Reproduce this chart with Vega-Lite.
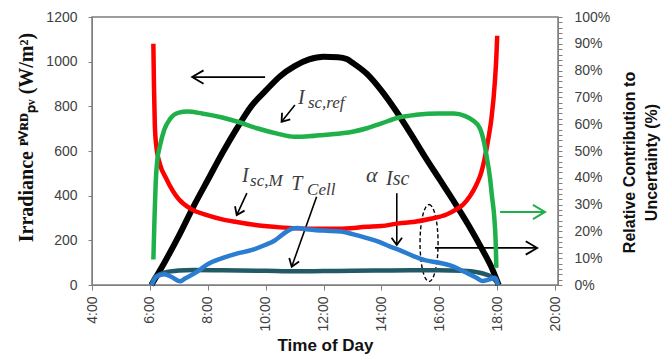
{
  "$schema": "https://vega.github.io/schema/vega-lite/v6.json",
  "width": 466,
  "height": 268,
  "autosize": {"type": "none"},
  "padding": {"left": 92, "top": 17, "right": 107, "bottom": 75},
  "config": {
    "font": "Liberation Sans",
    "view": {"stroke": "#7f7f7f", "strokeWidth": 1.5},
    "axis": {"grid": false, "domainColor": "#7f7f7f", "tickColor": "#7f7f7f", "labelColor": "#404040", "labelFontSize": 14, "labelOverlap": false, "labelFlush": false, "titleColor": "#111111"}
  },
  "datasets": {
    "irr": [
      {"h": 6.05, "v": 0}, {"h": 6.5, "v": 100}, {"h": 7.0, "v": 220}, {"h": 7.5, "v": 350},
      {"h": 8.0, "v": 470}, {"h": 8.5, "v": 590}, {"h": 9.0, "v": 700}, {"h": 9.5, "v": 800},
      {"h": 10.0, "v": 870}, {"h": 10.5, "v": 935}, {"h": 11.0, "v": 980}, {"h": 11.5, "v": 1010},
      {"h": 12.0, "v": 1022}, {"h": 12.5, "v": 1020}, {"h": 12.8, "v": 1012}, {"h": 13.0, "v": 995},
      {"h": 13.5, "v": 945}, {"h": 14.0, "v": 870}, {"h": 14.5, "v": 780}, {"h": 15.0, "v": 680},
      {"h": 15.5, "v": 575}, {"h": 16.0, "v": 475}, {"h": 16.5, "v": 375}, {"h": 17.0, "v": 270},
      {"h": 17.5, "v": 155}, {"h": 17.8, "v": 80}, {"h": 18.05, "v": 0}
    ],
    "pct": [
      {"s": "teal", "h": 6.06, "v": 0}, {"s": "teal", "h": 6.15, "v": 2.5}, {"s": "teal", "h": 6.25, "v": 3.5},
      {"s": "teal", "h": 6.5, "v": 4.6}, {"s": "teal", "h": 7.0, "v": 5.4}, {"s": "teal", "h": 7.5, "v": 5.6},
      {"s": "teal", "h": 8.5, "v": 5.5}, {"s": "teal", "h": 10.0, "v": 5.3}, {"s": "teal", "h": 11.0, "v": 5.1},
      {"s": "teal", "h": 12.0, "v": 5.2}, {"s": "teal", "h": 13.0, "v": 5.3}, {"s": "teal", "h": 14.0, "v": 5.4},
      {"s": "teal", "h": 15.0, "v": 5.5}, {"s": "teal", "h": 16.0, "v": 5.5}, {"s": "teal", "h": 16.8, "v": 5.3},
      {"s": "teal", "h": 17.3, "v": 4.8}, {"s": "teal", "h": 17.6, "v": 4.0}, {"s": "teal", "h": 17.8, "v": 3.0},
      {"s": "teal", "h": 17.95, "v": 1.5}, {"s": "teal", "h": 18.03, "v": 0.5},

      {"s": "red", "h": 6.12, "v": 90}, {"s": "red", "h": 6.14, "v": 75}, {"s": "red", "h": 6.17, "v": 60},
      {"s": "red", "h": 6.22, "v": 52}, {"s": "red", "h": 6.35, "v": 45}, {"s": "red", "h": 6.55, "v": 40},
      {"s": "red", "h": 6.8, "v": 35}, {"s": "red", "h": 7.0, "v": 32}, {"s": "red", "h": 7.4, "v": 28.5},
      {"s": "red", "h": 8.0, "v": 26}, {"s": "red", "h": 8.5, "v": 24.5}, {"s": "red", "h": 9.0, "v": 23.5},
      {"s": "red", "h": 9.7, "v": 22.3}, {"s": "red", "h": 10.5, "v": 21.5}, {"s": "red", "h": 11.5, "v": 21},
      {"s": "red", "h": 12.5, "v": 21}, {"s": "red", "h": 13.5, "v": 21.7}, {"s": "red", "h": 14.0, "v": 22},
      {"s": "red", "h": 14.6, "v": 23}, {"s": "red", "h": 15.1, "v": 23.5}, {"s": "red", "h": 15.7, "v": 24.7},
      {"s": "red", "h": 16.25, "v": 26.3}, {"s": "red", "h": 16.6, "v": 28.3}, {"s": "red", "h": 16.82, "v": 30},
      {"s": "red", "h": 17.05, "v": 33}, {"s": "red", "h": 17.28, "v": 37.4}, {"s": "red", "h": 17.45, "v": 42},
      {"s": "red", "h": 17.57, "v": 47.4}, {"s": "red", "h": 17.7, "v": 55}, {"s": "red", "h": 17.8, "v": 62},
      {"s": "red", "h": 17.92, "v": 76}, {"s": "red", "h": 17.97, "v": 85}, {"s": "red", "h": 18.0, "v": 93},

      {"s": "blue", "h": 6.06, "v": 0}, {"s": "blue", "h": 6.15, "v": 2}, {"s": "blue", "h": 6.25, "v": 3.3},
      {"s": "blue", "h": 6.5, "v": 4}, {"s": "blue", "h": 6.75, "v": 3}, {"s": "blue", "h": 7.04, "v": 1.4},
      {"s": "blue", "h": 7.2, "v": 2.3}, {"s": "blue", "h": 7.4, "v": 3.5}, {"s": "blue", "h": 7.7, "v": 5.5},
      {"s": "blue", "h": 7.96, "v": 7.5}, {"s": "blue", "h": 8.5, "v": 10}, {"s": "blue", "h": 9.0, "v": 11.7},
      {"s": "blue", "h": 9.5, "v": 13}, {"s": "blue", "h": 10.0, "v": 15}, {"s": "blue", "h": 10.3, "v": 16.5},
      {"s": "blue", "h": 10.6, "v": 19}, {"s": "blue", "h": 10.9, "v": 21}, {"s": "blue", "h": 11.1, "v": 21.3},
      {"s": "blue", "h": 11.4, "v": 20.8}, {"s": "blue", "h": 12.0, "v": 20.3}, {"s": "blue", "h": 12.6, "v": 20},
      {"s": "blue", "h": 13.0, "v": 19}, {"s": "blue", "h": 13.5, "v": 17.5}, {"s": "blue", "h": 13.94, "v": 16},
      {"s": "blue", "h": 14.3, "v": 14.3}, {"s": "blue", "h": 14.63, "v": 13}, {"s": "blue", "h": 15.1, "v": 10.8},
      {"s": "blue", "h": 15.5, "v": 9.3}, {"s": "blue", "h": 16.0, "v": 8.3}, {"s": "blue", "h": 16.4, "v": 7.2},
      {"s": "blue", "h": 16.7, "v": 5.8}, {"s": "blue", "h": 17.0, "v": 4.2}, {"s": "blue", "h": 17.28, "v": 2.7},
      {"s": "blue", "h": 17.5, "v": 1.5}, {"s": "blue", "h": 17.7, "v": 2}, {"s": "blue", "h": 17.92, "v": 2.7},
      {"s": "blue", "h": 18.03, "v": 0},

      {"s": "green", "h": 6.12, "v": 9.5}, {"s": "green", "h": 6.16, "v": 25}, {"s": "green", "h": 6.2, "v": 38},
      {"s": "green", "h": 6.25, "v": 46}, {"s": "green", "h": 6.35, "v": 52}, {"s": "green", "h": 6.5, "v": 58},
      {"s": "green", "h": 6.7, "v": 62}, {"s": "green", "h": 7.0, "v": 64.3}, {"s": "green", "h": 7.3, "v": 64.7},
      {"s": "green", "h": 7.8, "v": 64}, {"s": "green", "h": 8.5, "v": 62.5}, {"s": "green", "h": 9.0, "v": 61},
      {"s": "green", "h": 9.7, "v": 58.5}, {"s": "green", "h": 10.4, "v": 56.5}, {"s": "green", "h": 11.0, "v": 55.3},
      {"s": "green", "h": 11.5, "v": 55.5}, {"s": "green", "h": 12.0, "v": 56}, {"s": "green", "h": 13.0, "v": 57.2},
      {"s": "green", "h": 13.5, "v": 58.5}, {"s": "green", "h": 14.0, "v": 60.3}, {"s": "green", "h": 14.6, "v": 62.5},
      {"s": "green", "h": 15.2, "v": 63.5}, {"s": "green", "h": 16.0, "v": 64}, {"s": "green", "h": 16.5, "v": 64},
      {"s": "green", "h": 16.9, "v": 63}, {"s": "green", "h": 17.15, "v": 61.5}, {"s": "green", "h": 17.4, "v": 58.5},
      {"s": "green", "h": 17.55, "v": 53}, {"s": "green", "h": 17.65, "v": 47}, {"s": "green", "h": 17.75, "v": 40},
      {"s": "green", "h": 17.82, "v": 33}, {"s": "green", "h": 17.9, "v": 25}, {"s": "green", "h": 17.95, "v": 15},
      {"s": "green", "h": 17.97, "v": 6.4}
    ],
    "bigArrows": [
      {"h": 9.98, "v": 931, "h2": 7.46, "v2": 931, "dir": 180},
      {"h": 15.85, "v": 166, "h2": 19.38, "v2": 166, "dir": 0}
    ],
    "greenArrow": [
      {"h": 18.1, "v": 327, "h2": 19.65, "v2": 327, "dir": 0}
    ],
    "smallArrows": [
      {"h": 11.01, "v": 806, "h2": 10.55, "v2": 731, "dir": 128.5},
      {"h": 9.35, "v": 411, "h2": 9.0, "v2": 313, "dir": 114.7},
      {"h": 11.76, "v": 395, "h2": 10.9, "v2": 82, "dir": 109.7},
      {"h": 14.53, "v": 411, "h2": 14.53, "v2": 179, "dir": 90}
    ],
    "ellipse": [{"h": 15.645, "v": 188}],
    "mainLabels": [
      {"h": 11.12, "v": 810, "t": "I"},
      {"h": 9.18, "v": 461, "t": "I"},
      {"h": 10.88, "v": 425, "t": "T"},
      {"h": 14.16, "v": 448, "t": "Isc"}
    ],
    "subLabels": [
      {"h": 11.46, "v": 793, "t": "sc,ref"},
      {"h": 9.46, "v": 443, "t": "sc,M"},
      {"h": 11.43, "v": 403, "t": "Cell"}
    ],
    "alphaLabel": [{"h": 13.47, "v": 461, "t": "α"}]
  },
  "layer": [
    {
      "layer": [
        {
          "data": {"name": "irr"},
          "mark": {"type": "line", "color": "#000000", "strokeWidth": 6, "interpolate": "monotone"},
          "encoding": {
            "x": {"field": "h", "type": "quantitative", "scale": {"domain": [4, 20.1], "nice": false, "zero": false},
              "axis": {"title": "Time of Day", "titleFontSize": 17, "titleFontWeight": "bold", "titlePadding": 6,
                "values": [4,5,6,7,8,9,10,11,12,13,14,15,16,17,18,19,20],
                "labelExpr": "datum.value % 2 == 0 ? datum.value + ':00' : ''",
                "labelAngle": -90, "tickSize": 5, "labelPadding": 6}},
            "y": {"field": "v", "type": "quantitative", "scale": {"domain": [0, 1200], "nice": false},
              "axis": {"title": "Irradiance ᴾⱽᴿᴰₚᵥ (W/m²)", "titleFont": "Liberation Serif", "titleFontSize": 20, "titleFontWeight": "bold",
                "titlePadding": 9, "titleY": 120,
                "values": [0,50,100,150,200,250,300,350,400,450,500,550,600,650,700,750,800,850,900,950,1000,1050,1100,1150,1200],
                "labelExpr": "datum.value % 200 == 0 ? datum.value : ''", "tickSize": 4, "labelPadding": 11}}
          }
        },
        {
          "data": {"name": "bigArrows"},
          "mark": {"type": "rule", "color": "#000000", "strokeWidth": 1.8},
          "encoding": {
            "x": {"field": "h", "type": "quantitative"},
            "x2": {"field": "h2"},
            "y": {"field": "v", "type": "quantitative"},
            "y2": {"field": "v2"}
          }
        },
        {
          "data": {"name": "bigArrows"},
          "mark": {"type": "point", "shape": "M-1.7,-1L0,0L-1.7,1", "size": 180, "filled": false, "color": "#000000", "strokeWidth": 1.8, "opacity": 1},
          "encoding": {
            "x": {"field": "h2", "type": "quantitative"},
            "y": {"field": "v2", "type": "quantitative"},
            "angle": {"field": "dir", "type": "quantitative", "scale": null}
          }
        },
        {
          "data": {"name": "greenArrow"},
          "mark": {"type": "rule", "color": "#1fb04a", "strokeWidth": 2},
          "encoding": {
            "x": {"field": "h", "type": "quantitative"},
            "x2": {"field": "h2"},
            "y": {"field": "v", "type": "quantitative"},
            "y2": {"field": "v2"}
          }
        },
        {
          "data": {"name": "greenArrow"},
          "mark": {"type": "point", "shape": "M-1.7,-1L0,0L-1.7,1", "size": 200, "filled": false, "color": "#1fb04a", "strokeWidth": 2, "opacity": 1},
          "encoding": {
            "x": {"field": "h2", "type": "quantitative"},
            "y": {"field": "v2", "type": "quantitative"},
            "angle": {"field": "dir", "type": "quantitative", "scale": null}
          }
        },
        {
          "data": {"name": "smallArrows"},
          "mark": {"type": "rule", "color": "#000000", "strokeWidth": 1.6},
          "encoding": {
            "x": {"field": "h", "type": "quantitative"},
            "x2": {"field": "h2"},
            "y": {"field": "v", "type": "quantitative"},
            "y2": {"field": "v2"}
          }
        },
        {
          "data": {"name": "smallArrows"},
          "mark": {"type": "point", "shape": "M-1.4,-1L0,0L-1.4,1", "size": 110, "filled": false, "color": "#000000", "strokeWidth": 1.8, "opacity": 1},
          "encoding": {
            "x": {"field": "h2", "type": "quantitative"},
            "y": {"field": "v2", "type": "quantitative"},
            "angle": {"field": "dir", "type": "quantitative", "scale": null}
          }
        },
        {
          "data": {"name": "ellipse"},
          "mark": {"type": "point", "shape": "M0,-1A0.234,1,0,1,1,0,1A0.234,1,0,1,1,0,-1Z", "size": 5929, "filled": false, "color": "#000000", "strokeWidth": 1.4, "strokeDash": [4, 2.5], "opacity": 1},
          "encoding": {
            "x": {"field": "h", "type": "quantitative"},
            "y": {"field": "v", "type": "quantitative"}
          }
        },
        {
          "data": {"name": "mainLabels"},
          "mark": {"type": "text", "font": "Liberation Serif", "fontStyle": "italic", "fontSize": 20, "color": "#3c3c3c", "align": "left", "baseline": "alphabetic"},
          "encoding": {
            "x": {"field": "h", "type": "quantitative"},
            "y": {"field": "v", "type": "quantitative"},
            "text": {"field": "t"}
          }
        },
        {
          "data": {"name": "subLabels"},
          "mark": {"type": "text", "font": "Liberation Serif", "fontStyle": "italic", "fontSize": 17, "color": "#3c3c3c", "align": "left", "baseline": "alphabetic"},
          "encoding": {
            "x": {"field": "h", "type": "quantitative"},
            "y": {"field": "v", "type": "quantitative"},
            "text": {"field": "t"}
          }
        },
        {
          "data": {"name": "alphaLabel"},
          "mark": {"type": "text", "font": "Liberation Serif", "fontStyle": "italic", "fontSize": 22, "color": "#3c3c3c", "align": "left", "baseline": "alphabetic"},
          "encoding": {
            "x": {"field": "h", "type": "quantitative"},
            "y": {"field": "v", "type": "quantitative"},
            "text": {"field": "t"}
          }
        }
      ]
    },
    {
      "data": {"name": "pct"},
      "encoding": {
        "x": {"field": "h", "type": "quantitative"},
        "y": {"field": "v", "type": "quantitative", "scale": {"domain": [0, 100], "nice": false},
          "axis": {"orient": "right", "title": ["Relative Contribution to", "Uncertainty (%)"], "titleFontSize": 16, "titleFontWeight": "bold",
            "titleAngle": 270, "titleBaseline": "top", "titleLineHeight": 22, "titleX": 63, "titleY": 145,
            "values": [0,2,4,6,8,10,12,14,16,18,20,22,24,26,28,30,32,34,36,38,40,42,44,46,48,50,52,54,56,58,60,62,64,66,68,70,72,74,76,78,80,82,84,86,88,90,92,94,96,98,100],
            "labelExpr": "datum.value % 10 == 0 ? datum.value + '%' : ''", "tickSize": 4, "labelPadding": 12}}
      },
      "layer": [
        {"transform": [{"filter": "datum.s == 'teal'"}], "mark": {"type": "line", "color": "#215a66", "strokeWidth": 4.5, "interpolate": "monotone"}},
        {"transform": [{"filter": "datum.s == 'red'"}], "mark": {"type": "line", "color": "#ff0000", "strokeWidth": 4.5, "interpolate": "monotone"}},
        {"transform": [{"filter": "datum.s == 'blue'"}], "mark": {"type": "line", "color": "#2a7dd1", "strokeWidth": 4.5, "interpolate": "monotone"}},
        {"transform": [{"filter": "datum.s == 'green'"}], "mark": {"type": "line", "color": "#1fb04a", "strokeWidth": 4.5, "interpolate": "monotone"}}
      ]
    }
  ],
  "resolve": {"scale": {"y": "independent"}}
}
